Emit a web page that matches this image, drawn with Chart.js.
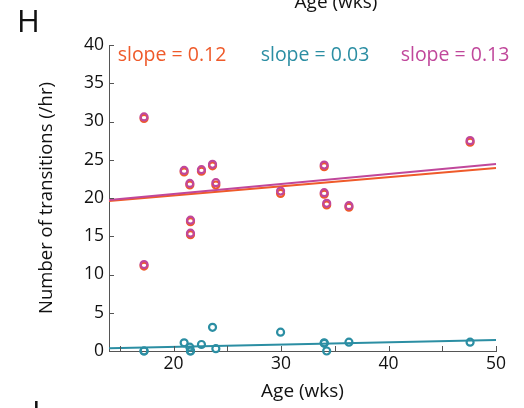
<!DOCTYPE html>
<html>
<head>
<meta charset="utf-8">
<script src="https://cdn.jsdelivr.net/npm/chart.js@4"></script>
<style>
  html, body { margin: 0; padding: 0; background: #fff; }
  canvas { display: block; }
</style>
</head>
<body>
<canvas id="transitions" width="524" height="408"></canvas>
<script>
'use strict';

// age of each animal (weeks)
const ageWeeks = [17.26, 17.26, 20.99, 21.52, 21.58, 21.58, 22.6, 23.63, 23.94,
  29.96, 34.02, 34.02, 34.25, 36.32, 47.59];

// transitions per hour, one value per animal
const orangeRate = [30.4, 11.1, 23.4, 21.7, 16.9, 15.2, 23.5, 24.2, 21.7,
  20.6, 24.1, 20.5, 19.1, 18.8, 27.3];
const tealRate = [0, 0, 1.07, 0.5, 0, 0, 0.85, 3.1, 0.3,
  2.46, 1.07, 1.0, 0, 1.15, 1.15];
const magentaRate = [30.6, 11.3, 23.6, 21.9, 17.1, 15.4, 23.7, 24.4, 22.0,
  20.9, 24.3, 20.7, 19.3, 19.0, 27.5];

// fitted lines: value at the left edge and slope
const fitStart = [19.6, 0.35, 19.75];
const fitSlope = [0.12, 0.03, 0.13];
const fitRange = [14, 50];

const xTicks = [15, 20, 25, 30, 35, 40, 45, 50];
const xTickLabels = [20, 30, 40, 50];
const yTicks = [0, 5, 10, 15, 20, 25, 30, 35, 40];

const ORANGE = '#ef5a2a';
const TEAL = '#2b8ea3';
const MAGENTA = '#c0479b';
const AXIS = '#555555';
const INK = '#111111';
const FONT = '"Open Sans", sans-serif';

function points(ys){
  return ageWeeks.map((x, i) => ({x: x, y: ys[i]}));
}

function fitLine(k){
  return fitRange.map(x => ({x: x, y: fitStart[k] + fitSlope[k] * (x - fitRange[0])}));
}

function dots(ys, color){
  return {
    data: points(ys),
    borderColor: color,
    backgroundColor: 'rgba(0,0,0,0)',
    pointRadius: 3.5,
    pointBorderWidth: 2.2,
    clip: false
  };
}

function line(k, color){
  return {
    data: fitLine(k),
    showLine: true,
    borderColor: color,
    borderWidth: 2,
    pointRadius: 0,
    clip: false
  };
}

// tick marks pointing into the plot, plus the loose text around the panel
const panelExtras = {
  id: 'panelExtras',
  afterDraw(chart){
    const ctx = chart.ctx;
    const area = chart.chartArea;
    const xs = chart.scales.x;
    const ys = chart.scales.y;
    ctx.save();
    ctx.strokeStyle = AXIS;
    ctx.lineWidth = 1;
    ctx.beginPath();
    xTicks.forEach(v => {
      const px = Math.round(xs.getPixelForValue(v)) + 0.5;
      ctx.moveTo(px, area.bottom);
      ctx.lineTo(px, area.bottom - 5);
    });
    yTicks.forEach(v => {
      const py = Math.round(ys.getPixelForValue(v)) + 0.5;
      ctx.moveTo(area.left, py);
      ctx.lineTo(area.left + 5, py);
    });
    ctx.stroke();

    ctx.textBaseline = 'alphabetic';
    ctx.font = '19.5px ' + FONT;
    ctx.textAlign = 'center';
    ctx.fillStyle = ORANGE;
    ctx.fillText('slope = ' + fitSlope[0].toFixed(2), 172, 61);
    ctx.fillStyle = TEAL;
    ctx.fillText('slope = ' + fitSlope[1].toFixed(2), 315, 61);
    ctx.fillStyle = MAGENTA;
    ctx.fillText('slope = ' + fitSlope[2].toFixed(2), 455, 61);

    ctx.fillStyle = INK;
    ctx.font = '19px ' + FONT;
    ctx.fillText('Age (wks)', 336, 8);
    ctx.textAlign = 'left';
    ctx.font = '31px ' + FONT;
    ctx.fillText('H', 17, 32);
    ctx.fillText('I', 32, 423);
    ctx.restore();
  }
};

const ctx = document.getElementById('transitions').getContext('2d');
const chart = new Chart(ctx, {
  type: 'scatter',
  data: {
    datasets: [
      line(2, MAGENTA),
      dots(magentaRate, MAGENTA),
      line(0, ORANGE),
      dots(orangeRate, ORANGE),
      line(1, TEAL),
      dots(tealRate, TEAL)
    ]
  },
  options: {
    responsive: false,
    animation: false,
    layout: {padding: {top: 45, right: 28, left: 0, bottom: 0}},
    plugins: {legend: {display: false}, tooltip: {enabled: false}},
    scales: {
      x: {
        min: 14,
        max: 50,
        grid: {display: false, drawTicks: false},
        border: {display: true, color: AXIS, width: 1},
        afterBuildTicks: scale => { scale.ticks = xTicks.map(v => ({value: v})); },
        afterFit: scale => { scale.height = 57; },
        ticks: {
          color: INK,
          font: {family: FONT, size: 17.5},
          padding: 3,
          maxRotation: 0,
          autoSkip: false,
          callback: v => xTickLabels.includes(v) ? String(v) : ''
        },
        title: {
          display: true,
          text: 'Age (wks)',
          color: INK,
          font: {family: FONT, size: 19},
          padding: {top: 0, bottom: 5}
        }
      },
      y: {
        min: 0,
        max: 40,
        grid: {display: false, drawTicks: false},
        border: {display: true, color: AXIS, width: 1},
        afterBuildTicks: scale => { scale.ticks = yTicks.map(v => ({value: v})); },
        afterFit: scale => { scale.width = 109; },
        ticks: {
          color: INK,
          font: {family: FONT, size: 17.5},
          padding: 5,
          autoSkip: false
        },
        title: {
          display: true,
          text: 'Number of transitions (/hr)',
          color: INK,
          font: {family: FONT, size: 18.5},
          padding: {top: 36, bottom: 0}
        }
      }
    }
  },
  plugins: [panelExtras]
});
</script>
</body>
</html>
